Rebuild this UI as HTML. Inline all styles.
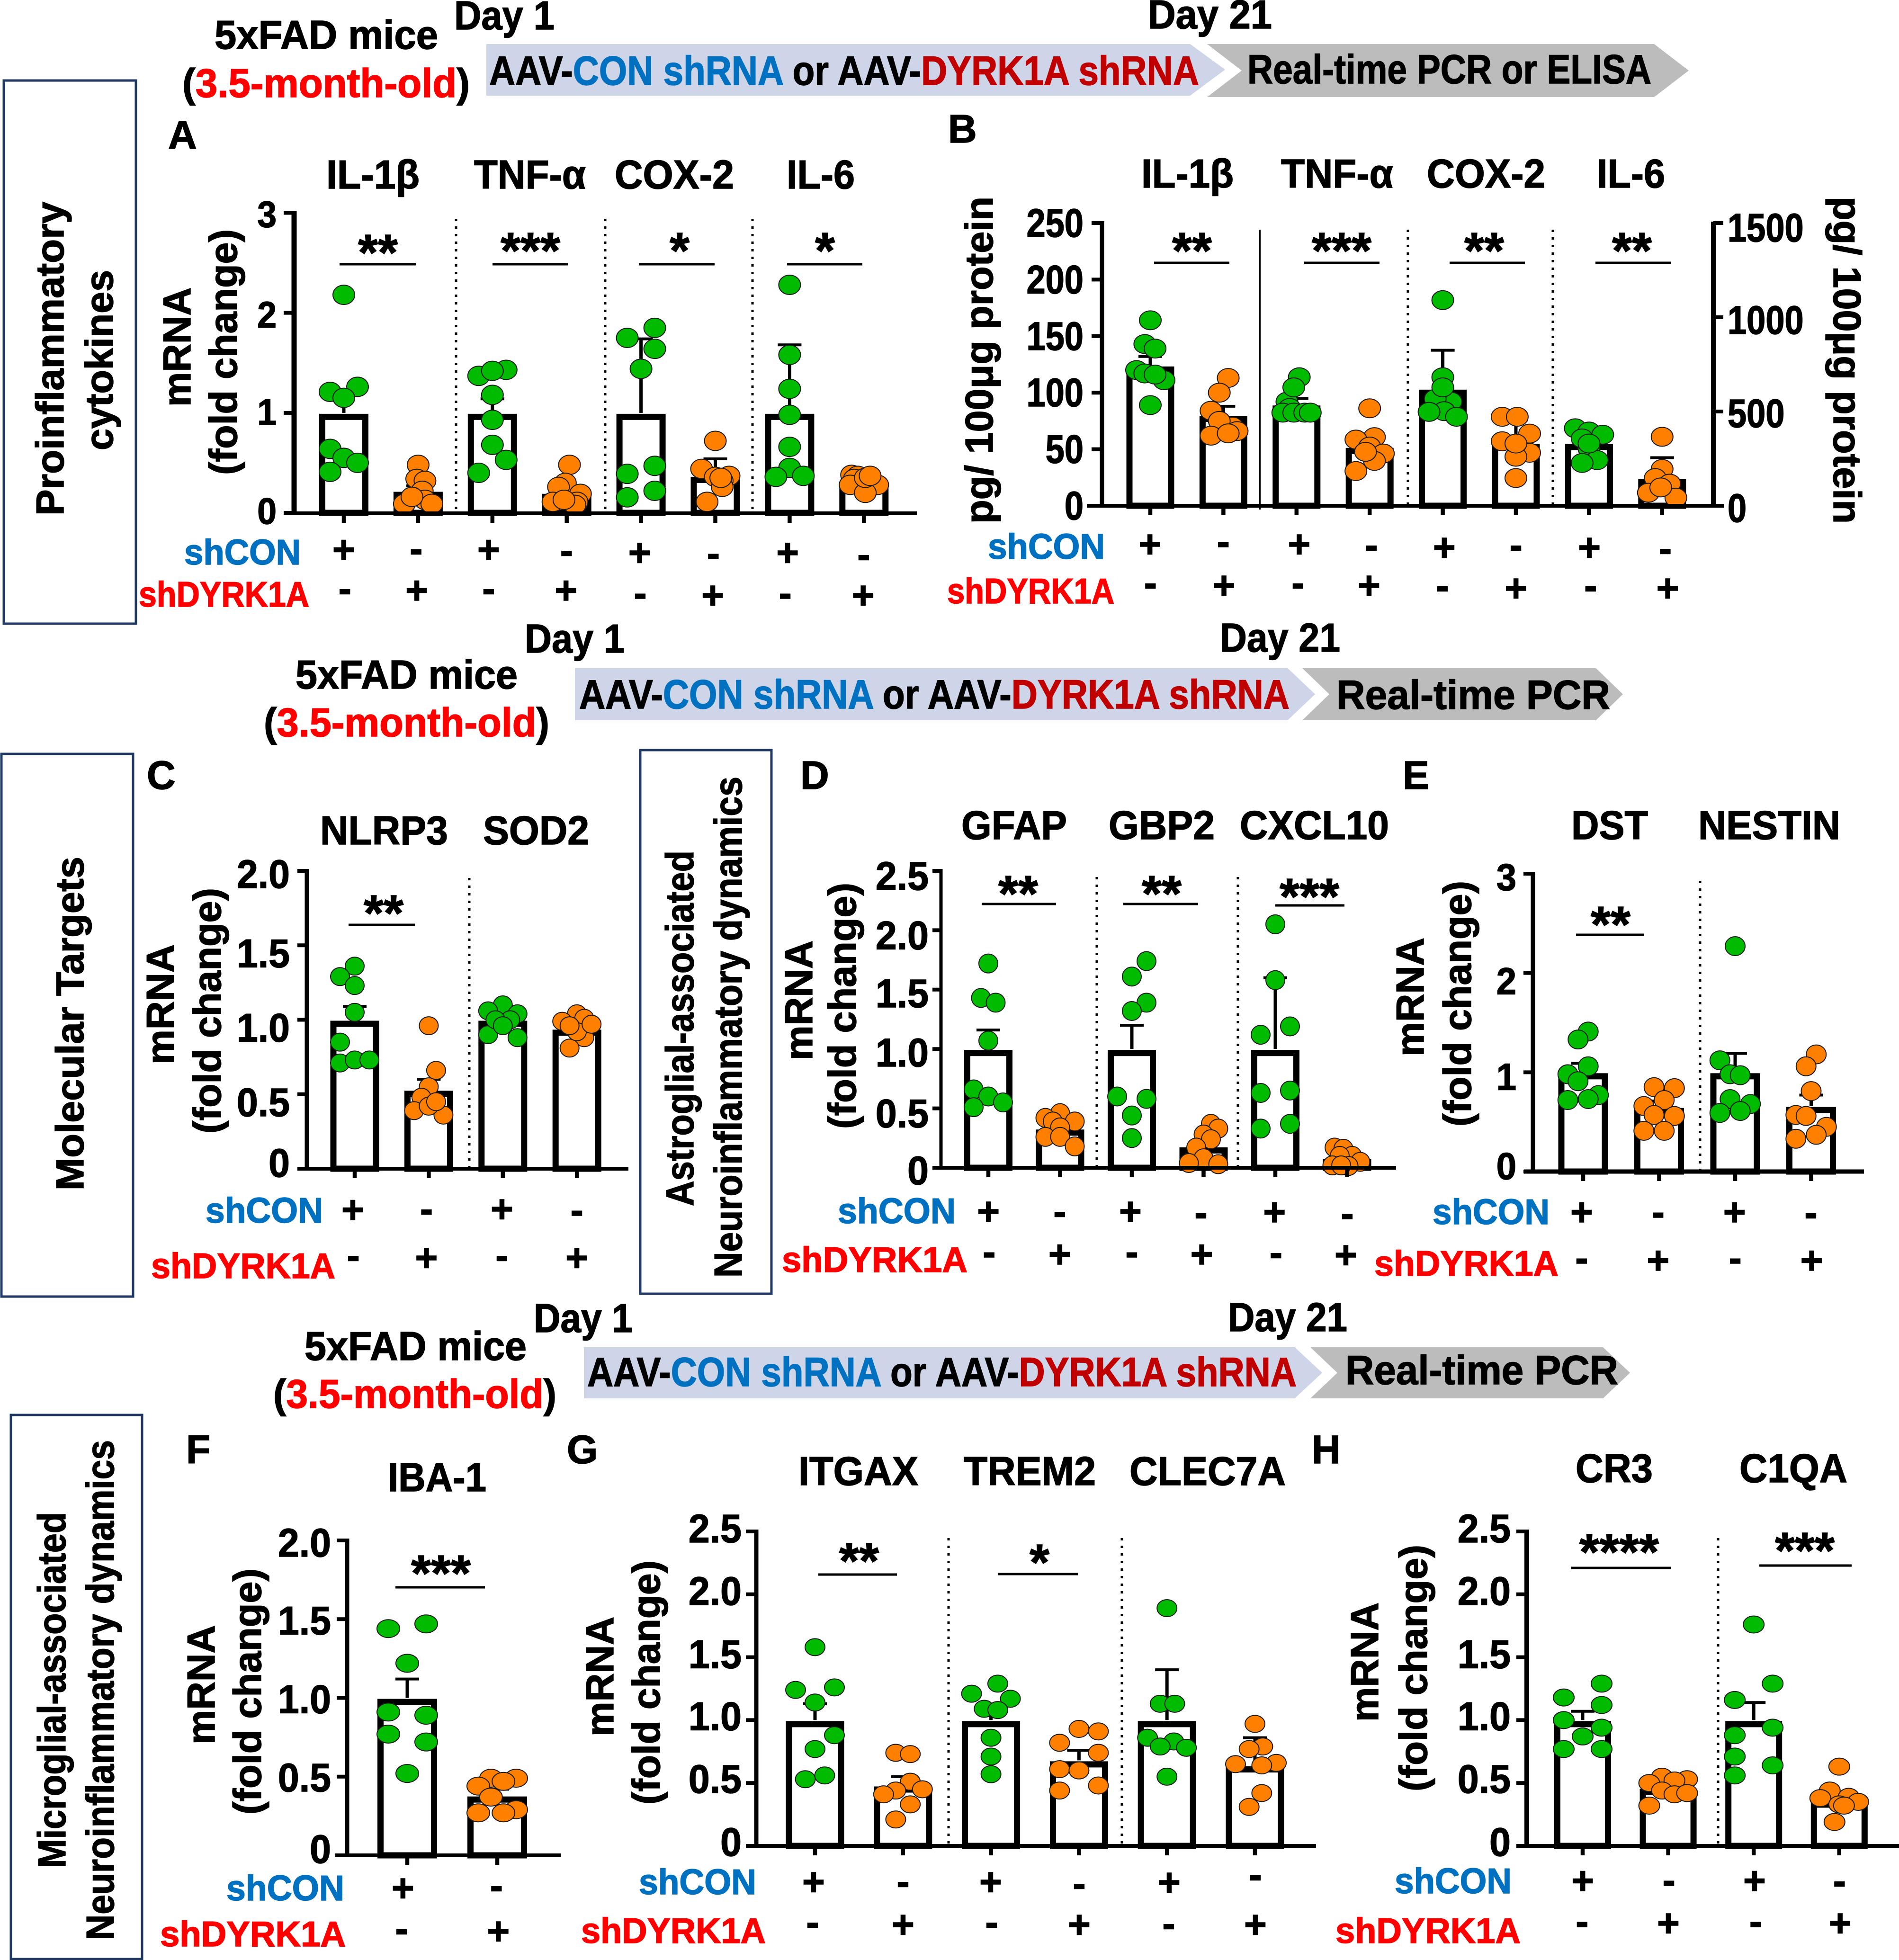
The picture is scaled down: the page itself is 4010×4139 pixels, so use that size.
<!DOCTYPE html>
<html lang="en">
<head>
<meta charset="utf-8">
<title>DYRK1A shRNA neuroinflammation figure</title>
<style>
html,body{margin:0;padding:0;background:#fff;}
svg{display:block;}
text{font-family:"Liberation Sans",Arial,sans-serif;font-weight:bold;fill:#000;stroke:#000;stroke-width:1.5;}
.blue{fill:#0070c0;stroke:#0070c0;}
.red{fill:#ff0000;stroke:#ff0000;}
.dred{fill:#c00000;stroke:#c00000;}
.lbl{font-size:75px;}
.ttl{font-size:85px;}
.hdr{font-size:85px;}
.let{font-size:84px;}
.arr{font-size:86px;}
.rot{font-size:83px;}
.star{font-size:108px;text-anchor:middle;}
.sig{stroke:#000;stroke-width:5;}
.dot{stroke:#000;stroke-width:5;stroke-dasharray:5 11;}
.box{fill:none;stroke:#1f3864;stroke-width:5;}
</style>
</head>
<body>
<svg id="figure" xmlns="http://www.w3.org/2000/svg" width="4010" height="4139" viewBox="0 0 4010 4139">
<rect x="0" y="0" width="4010" height="4139" fill="#fff"/>

<!-- Header 1 -->
<g>
<text class="hdr" x="453" y="103" textLength="472" lengthAdjust="spacingAndGlyphs">5xFAD mice</text>
<text class="hdr" x="385" y="205" textLength="607" lengthAdjust="spacingAndGlyphs">(<tspan class="red">3.5-month-old</tspan>)</text>
<text class="hdr" x="959" y="62" textLength="212" lengthAdjust="spacingAndGlyphs">Day 1</text>
<text class="hdr" x="2424" y="60" textLength="262" lengthAdjust="spacingAndGlyphs">Day 21</text>
<polygon points="1027,93 2513,93 2587,147 2513,202 1027,202" fill="#cfd5e9"/>
<polygon points="2549,93 3493,93 3566,149 3493,205 2549,205 2622,149" fill="#bcbcbc"/>
<text class="arr" x="1033" y="179" textLength="1499" lengthAdjust="spacingAndGlyphs">AAV-<tspan class="blue">CON shRNA</tspan> or AAV-<tspan class="dred">DYRK1A shRNA</tspan></text>
<text class="arr" x="2634" y="176" textLength="853" lengthAdjust="spacingAndGlyphs">Real-time PCR or ELISA</text>
</g>

<!-- Header 2 -->
<g>
<text class="hdr" x="624" y="1454" textLength="469" lengthAdjust="spacingAndGlyphs">5xFAD mice</text>
<text class="hdr" x="557" y="1555" textLength="603" lengthAdjust="spacingAndGlyphs">(<tspan class="red">3.5-month-old</tspan>)</text>
<text class="hdr" x="1108" y="1378" textLength="211" lengthAdjust="spacingAndGlyphs">Day 1</text>
<text class="hdr" x="2576" y="1376" textLength="254" lengthAdjust="spacingAndGlyphs">Day 21</text>
<polygon points="1214,1411 2719,1411 2777,1466 2719,1521 1214,1521" fill="#cfd5e9"/>
<polygon points="2750,1411 3370,1411 3427,1466 3370,1521 2750,1521 2807,1466" fill="#bcbcbc"/>
<text class="arr" x="1223" y="1496" textLength="1500" lengthAdjust="spacingAndGlyphs">AAV-<tspan class="blue">CON shRNA</tspan> or AAV-<tspan class="dred">DYRK1A shRNA</tspan></text>
<text class="arr" x="2822" y="1497" textLength="578" lengthAdjust="spacingAndGlyphs">Real-time PCR</text>
</g>

<!-- Header 3 -->
<g>
<text class="hdr" x="643" y="2872" textLength="469" lengthAdjust="spacingAndGlyphs">5xFAD mice</text>
<text class="hdr" x="577" y="2973" textLength="598" lengthAdjust="spacingAndGlyphs">(<tspan class="red">3.5-month-old</tspan>)</text>
<text class="hdr" x="1127" y="2813" textLength="209" lengthAdjust="spacingAndGlyphs">Day 1</text>
<text class="hdr" x="2593" y="2811" textLength="252" lengthAdjust="spacingAndGlyphs">Day 21</text>
<polygon points="1233,2845 2734,2845 2792,2899 2734,2953 1233,2953" fill="#cfd5e9"/>
<polygon points="2767,2845 3385,2845 3442,2899 3385,2953 2767,2953 2824,2899" fill="#bcbcbc"/>
<text class="arr" x="1240" y="2927" textLength="1498" lengthAdjust="spacingAndGlyphs">AAV-<tspan class="blue">CON shRNA</tspan> or AAV-<tspan class="dred">DYRK1A shRNA</tspan></text>
<text class="arr" x="2841" y="2923" textLength="576" lengthAdjust="spacingAndGlyphs">Real-time PCR</text>
</g>

<!-- Section boxes -->
<rect class="box" x="8" y="170" width="279" height="1147"/>
<text class="rot" transform="translate(134,1089) rotate(-90)" textLength="663" lengthAdjust="spacingAndGlyphs">Proinflammatory</text>
<text class="rot" transform="translate(238,951) rotate(-90)" textLength="381" lengthAdjust="spacingAndGlyphs">cytokines</text>
<rect class="box" x="3" y="1592" width="278" height="1146"/>
<text class="rot" transform="translate(176,2514) rotate(-90)" textLength="705" lengthAdjust="spacingAndGlyphs">Molecular Targets</text>
<rect class="box" x="1352" y="1584" width="277" height="1148"/>
<text class="rot" transform="translate(1464,2547) rotate(-90)" textLength="751" lengthAdjust="spacingAndGlyphs">Astroglial-associated</text>
<text class="rot" transform="translate(1566,2698) rotate(-90)" textLength="1058" lengthAdjust="spacingAndGlyphs">Neuroinflammatory dynamics</text>
<rect class="box" x="23" y="2988" width="277" height="1149"/>
<text class="rot" transform="translate(138,3945) rotate(-90)" textLength="752" lengthAdjust="spacingAndGlyphs">Microglial-associated</text>
<text class="rot" transform="translate(240,4097) rotate(-90)" textLength="1056" lengthAdjust="spacingAndGlyphs">Neuroinflammatory dynamics</text>

<!-- Panel letters -->
<text class="let" x="355" y="314">A</text>
<text class="let" x="2002" y="301">B</text>
<text class="let" x="310" y="1666">C</text>
<text class="let" x="1690" y="1666">D</text>
<text class="let" x="2962" y="1666">E</text>
<text class="let" x="393" y="3090">F</text>
<text class="let" x="1197" y="3090">G</text>
<text class="let" x="2770" y="3090">H</text>

<!-- Gene titles -->
<text class="ttl" x="689" y="398" textLength="197" lengthAdjust="spacingAndGlyphs">IL-1β</text>
<text class="ttl" x="1001" y="398" textLength="236" lengthAdjust="spacingAndGlyphs">TNF-α</text>
<text class="ttl" x="1298" y="398" textLength="252" lengthAdjust="spacingAndGlyphs">COX-2</text>
<text class="ttl" x="1661" y="398" textLength="144" lengthAdjust="spacingAndGlyphs">IL-6</text>
<text class="ttl" x="2410" y="396" textLength="195" lengthAdjust="spacingAndGlyphs">IL-1β</text>
<text class="ttl" x="2705" y="396" textLength="237" lengthAdjust="spacingAndGlyphs">TNF-α</text>
<text class="ttl" x="3013" y="396" textLength="250" lengthAdjust="spacingAndGlyphs">COX-2</text>
<text class="ttl" x="3372" y="396" textLength="144" lengthAdjust="spacingAndGlyphs">IL-6</text>
<text class="ttl" x="676" y="1783" textLength="270" lengthAdjust="spacingAndGlyphs">NLRP3</text>
<text class="ttl" x="1020" y="1783" textLength="224" lengthAdjust="spacingAndGlyphs">SOD2</text>
<text class="ttl" x="2030" y="1772" textLength="223" lengthAdjust="spacingAndGlyphs">GFAP</text>
<text class="ttl" x="2341" y="1772" textLength="224" lengthAdjust="spacingAndGlyphs">GBP2</text>
<text class="ttl" x="2618" y="1772" textLength="315" lengthAdjust="spacingAndGlyphs">CXCL10</text>
<text class="ttl" x="3318" y="1772" textLength="162" lengthAdjust="spacingAndGlyphs">DST</text>
<text class="ttl" x="3586" y="1772" textLength="300" lengthAdjust="spacingAndGlyphs">NESTIN</text>
<text class="ttl" x="819" y="3149" textLength="208" lengthAdjust="spacingAndGlyphs">IBA-1</text>
<text class="ttl" x="1686" y="3136" textLength="253" lengthAdjust="spacingAndGlyphs">ITGAX</text>
<text class="ttl" x="2035" y="3136" textLength="279" lengthAdjust="spacingAndGlyphs">TREM2</text>
<text class="ttl" x="2385" y="3136" textLength="330" lengthAdjust="spacingAndGlyphs">CLEC7A</text>
<text class="ttl" x="3327" y="3130" textLength="163" lengthAdjust="spacingAndGlyphs">CR3</text>
<text class="ttl" x="3673" y="3130" textLength="228" lengthAdjust="spacingAndGlyphs">C1QA</text>

<!-- Y axis titles -->
<g>
<text class="rot" transform="translate(402,859) rotate(-90)" textLength="252" lengthAdjust="spacingAndGlyphs">mRNA</text>
<text class="rot" transform="translate(500,1003) rotate(-90)" textLength="519" lengthAdjust="spacingAndGlyphs">(fold change)</text>
<text class="rot" transform="translate(2096,1106) rotate(-90)" textLength="691" lengthAdjust="spacingAndGlyphs">pg/ 100μg protein</text>
<text class="rot" transform="translate(3872,415) rotate(90)" textLength="691" lengthAdjust="spacingAndGlyphs">pg/ 100μg protein</text>
<text class="rot" transform="translate(367,2248) rotate(-90)" textLength="254" lengthAdjust="spacingAndGlyphs">mRNA</text>
<text class="rot" transform="translate(466,2394) rotate(-90)" textLength="519" lengthAdjust="spacingAndGlyphs">(fold change)</text>
<text class="rot" transform="translate(1715,2239) rotate(-90)" textLength="253" lengthAdjust="spacingAndGlyphs">mRNA</text>
<text class="rot" transform="translate(1807,2384) rotate(-90)" textLength="520" lengthAdjust="spacingAndGlyphs">(fold change)</text>
<text class="rot" transform="translate(3006,2231) rotate(-90)" textLength="251" lengthAdjust="spacingAndGlyphs">mRNA</text>
<text class="rot" transform="translate(3106,2379) rotate(-90)" textLength="519" lengthAdjust="spacingAndGlyphs">(fold change)</text>
<text class="rot" transform="translate(453,3684) rotate(-90)" textLength="252" lengthAdjust="spacingAndGlyphs">mRNA</text>
<text class="rot" transform="translate(551,3832) rotate(-90)" textLength="520" lengthAdjust="spacingAndGlyphs">(fold change)</text>
<text class="rot" transform="translate(1295,3667) rotate(-90)" textLength="253" lengthAdjust="spacingAndGlyphs">mRNA</text>
<text class="rot" transform="translate(1393,3811) rotate(-90)" textLength="516" lengthAdjust="spacingAndGlyphs">(fold change)</text>
<text class="rot" transform="translate(2910,3636) rotate(-90)" textLength="252" lengthAdjust="spacingAndGlyphs">mRNA</text>
<text class="rot" transform="translate(3013,3783) rotate(-90)" textLength="521" lengthAdjust="spacingAndGlyphs">(fold change)</text>
</g>

<!-- Group labels -->
<g>
<text class="lbl blue" x="389" y="1192" textLength="246" lengthAdjust="spacingAndGlyphs">shCON</text>
<text class="lbl red" x="293" y="1281" textLength="360" lengthAdjust="spacingAndGlyphs">shDYRK1A</text>
<text class="lbl blue" x="2086" y="1180" textLength="247" lengthAdjust="spacingAndGlyphs">shCON</text>
<text class="lbl red" x="2000" y="1274" textLength="353" lengthAdjust="spacingAndGlyphs">shDYRK1A</text>
<text class="lbl blue" x="434" y="2582" textLength="248" lengthAdjust="spacingAndGlyphs">shCON</text>
<text class="lbl red" x="319" y="2699" textLength="389" lengthAdjust="spacingAndGlyphs">shDYRK1A</text>
<text class="lbl blue" x="1769" y="2583" textLength="249" lengthAdjust="spacingAndGlyphs">shCON</text>
<text class="lbl red" x="1651" y="2686" textLength="392" lengthAdjust="spacingAndGlyphs">shDYRK1A</text>
<text class="lbl blue" x="3025" y="2585" textLength="247" lengthAdjust="spacingAndGlyphs">shCON</text>
<text class="lbl red" x="2902" y="2694" textLength="389" lengthAdjust="spacingAndGlyphs">shDYRK1A</text>
<text class="lbl blue" x="478" y="4013" textLength="249" lengthAdjust="spacingAndGlyphs">shCON</text>
<text class="lbl red" x="338" y="4110" textLength="392" lengthAdjust="spacingAndGlyphs">shDYRK1A</text>
<text class="lbl blue" x="1349" y="4000" textLength="248" lengthAdjust="spacingAndGlyphs">shCON</text>
<text class="lbl red" x="1227" y="4103" textLength="390" lengthAdjust="spacingAndGlyphs">shDYRK1A</text>
<text class="lbl blue" x="2945" y="3998" textLength="247" lengthAdjust="spacingAndGlyphs">shCON</text>
<text class="lbl red" x="2820" y="4103" textLength="391" lengthAdjust="spacingAndGlyphs">shDYRK1A</text>
</g>

<!-- Dividers -->
<g>
<line class="dot" x1="963" y1="462" x2="963" y2="1083"/>
<line class="dot" x1="1278" y1="462" x2="1278" y2="1083"/>
<line class="dot" x1="1589" y1="462" x2="1589" y2="1083"/>
<line x1="2660" y1="485" x2="2660" y2="1076" stroke="#000" stroke-width="4"/>
<line class="dot" x1="2973" y1="485" x2="2973" y2="1068"/>
<line class="dot" x1="3279" y1="485" x2="3279" y2="1068"/>
<line class="dot" x1="991" y1="1854" x2="991" y2="2468"/>
<line class="dot" x1="2316" y1="1852" x2="2316" y2="2466"/>
<line class="dot" x1="2614" y1="1852" x2="2614" y2="2466"/>
<line class="dot" x1="3590" y1="1860" x2="3590" y2="2474"/>
<line class="dot" x1="2003" y1="3248" x2="2003" y2="3898"/>
<line class="dot" x1="2369" y1="3248" x2="2369" y2="3898"/>
<line class="dot" x1="3628" y1="3248" x2="3628" y2="3898"/>
</g>

<g id="plots"></g>

<!-- Significance -->
<g>
<line class="sig" x1="717" y1="558" x2="878" y2="558"/>
<text class="star" x="798" y="570">**</text>
<line class="sig" x1="1040" y1="558" x2="1199" y2="558"/>
<text class="star" x="1120" y="566">***</text>
<line class="sig" x1="1349" y1="558" x2="1509" y2="558"/>
<text class="star" x="1435" y="566">*</text>
<line class="sig" x1="1662" y1="558" x2="1821" y2="558"/>
<text class="star" x="1742" y="566">*</text>
<line class="sig" x1="2437" y1="555" x2="2596" y2="555"/>
<text class="star" x="2517" y="566">**</text>
<line class="sig" x1="2754" y1="555" x2="2913" y2="555"/>
<text class="star" x="2833" y="566">***</text>
<line class="sig" x1="3061" y1="555" x2="3220" y2="555"/>
<text class="star" x="3134" y="566">**</text>
<line class="sig" x1="3369" y1="555" x2="3528" y2="555"/>
<text class="star" x="3446" y="566">**</text>
<line class="sig" x1="736" y1="1953" x2="876" y2="1953"/>
<text class="star" x="810" y="1965">**</text>
<line class="sig" x1="2073" y1="1909" x2="2230" y2="1909"/>
<text class="star" x="2150" y="1924">**</text>
<line class="sig" x1="2372" y1="1909" x2="2530" y2="1909"/>
<text class="star" x="2453" y="1924">**</text>
<line class="sig" x1="2693" y1="1912" x2="2839" y2="1912"/>
<text class="star" x="2765" y="1930">***</text>
<line class="sig" x1="3328" y1="1974" x2="3472" y2="1974"/>
<text class="star" x="3401" y="1989">**</text>
<line class="sig" x1="835" y1="3352" x2="1024" y2="3352"/>
<text class="star" x="931" y="3359">***</text>
<line class="sig" x1="1728" y1="3325" x2="1894" y2="3325"/>
<text class="star" x="1814" y="3333">**</text>
<line class="sig" x1="2108" y1="3324" x2="2276" y2="3324"/>
<text class="star" x="2195" y="3336">*</text>
<line class="sig" x1="3318" y1="3311" x2="3528" y2="3311"/>
<text class="star" x="3419" y="3314">****</text>
<line class="sig" x1="3715" y1="3306" x2="3910" y2="3306"/>
<text class="star" x="3811" y="3311">***</text>
</g>
</svg>

<script>
/* ---------- Panel A ---------- */
const panelA_tickValues = [0, 1, 2, 3];
const panelA_tickLabels = ['0', '1', '2', '3'];
const panelA_means = [1, 0.22, 1, 0.2, 1, 0.37, 1, 0.28];
const panelA_errorTops = [1.2, 0.27, 1.14, 0.25, 1.74, 0.54, 1.68, 0.31];
const panelA_points = [
  [2.18, 1.26, 1.21, 1.15, 0.64, 0.55, 0.5, 0.41],
  [0.48, 0.34, 0.32, 0.22, 0.09, 0.13, 0.09, 0.16],
  [1.37, 1.43, 1.42, 1.18, 0.93, 0.68, 0.53, 0.4],
  [0.48, 0.3, 0.26, 0.19, 0.11, 0.08, 0.11, 0.13],
  [1.85, 1.75, 1.64, 1.44, 0.47, 0.39, 0.22, 0.155],
  [0.72, 0.44, 0.37, 0.36, 0.32, 0.26, 0.11, 0.35],
  [2.28, 1.58, 1.24, 0.98, 0.66, 0.45, 0.36, 0.37],
  [0.38, 0.37, 0.34, 0.28, 0.28, 0.2, 0.35, 0.37]
];
const panelA_swarmSlots = [
  [0, 1, -1, 0, -1, 0, 1, -1],
  [0, -0.1, 0.5, 0.3, -1, 0.5, 1, -0.45],
  [-1, 1, 0, 0, 0, 0, 1, -1],
  [0.2, -0.1, -0.6, 1, 0.75, 0.6, -1, -0.2],
  [1, -1, 1, 0, 1, -1, 1, -1],
  [0, -1, 1, 0, 0.5, 0.5, -0.6, 0.4],
  [0, 0, 0, 0, 0, 0, -1, 1],
  [-0.9, -0.45, -0.7, -1, 1, 0.1, 0.1, 0.45]
];
const panelA_shCON = ['+', '-', '+', '-', '+', '-', '+', '-'];
const panelA_shDYRK1A = ['-', '+', '-', '+', '-', '+', '-', '+'];

/* ---------- Panel B (first pair on left axis, the rest on right axis) ---------- */
const panelB_leftTickValues = [0, 50, 100, 150, 200, 250];
const panelB_leftTickLabels = ['0', '50', '100', '150', '200', '250'];
const panelB_rightTickValues = [0, 500, 1000, 1500];
const panelB_rightTickLabels = ['0', '500', '1000', '1500'];
const panelB_axisOfGroup = ['left', 'left', 'right', 'right', 'right', 'right', 'right', 'right'];
const panelB_means = [124, 80.4, 537, 312, 621, 333, 333, 147];
const panelB_errorTops = [132, 88, 569, 335, 825, 455, 357, 255];
const panelB_points = [
  [164, 143, 139, 111, 120, 89, 117, 116],
  [113, 100, 84, 70, 75, 66, 62, 64],
  [682, 552, 519, 628, 494, 494, 494, 494],
  [517, 364, 351, 314, 277, 238, 184, 286],
  [1091, 682, 552, 567, 502, 498, 472, 628],
  [472, 472, 383, 342, 281, 260, 147, 330],
  [411, 394, 377, 357, 303, 242, 227, 330],
  [366, 195, 147, 117, 69, 43, 97]
];
const panelB_swarmSlots = [
  [0, -0.4, 0.35, 1, -1, 0, -0.4, 0.35],
  [0.35, -0.3, -0.9, 0.65, -0.3, 1, -0.9, 0.35],
  [0.2, -0.7, -0.5, -0.2, -1, -0.2, 0.6, 1],
  [0, 0.35, -1, 0, 1, 0.35, -1, -0.3],
  [0, 0, 0.6, -0.55, 0.1, -1, 1, 0],
  [-1, 0.1, 1, -1, 1, 0, 0, 0],
  [-1, 0, 1, -0.5, 0, 0.6, -0.5, 0],
  [0, 0, -0.5, 0.55, -1, 1, -0.1]
];
const panelB_shCON = ['+', '-', '+', '-', '+', '-', '+', '-'];
const panelB_shDYRK1A = ['-', '+', '-', '+', '-', '+', '-', '+'];

/* ---------- Panel C ---------- */
const panelC_tickValues = [0, 0.5, 1, 1.5, 2];
const panelC_tickLabels = ['0', '0.5', '1.0', '1.5', '2.0'];
const panelC_means = [1, 0.53, 1, 0.94];
const panelC_errorTops = [1.09, 0.6, 1.03, 0.97];
const panelC_points = [
  [1.36, 1.29, 1.23, 1.05, 0.85, 0.71, 0.73, 0.73],
  [0.96, 0.66, 0.55, 0.48, 0.39, 0.36, 0.42, 0.45],
  [1.1, 1.04, 1.0, 0.88, 0.9, 1.06, 1.0, 0.96],
  [1.04, 1.01, 0.99, 0.88, 0.81, 0.92, 0.97, 0.96]
];
const panelC_swarmSlots = [
  [0, -1, 0, 0, -1, -1, 0, 1],
  [0, 0.5, 0, -0.5, -1, 1, 0, 0.5],
  [0, 1, 0.5, 1, -1, -1, -0.5, 0],
  [0, 0.5, -1, 0.5, -0.5, 0, 1, -0.5]
];
const panelC_shCON = ['+', '-', '+', '-'];
const panelC_shDYRK1A = ['-', '+', '-', '+'];

/* ---------- Panel D ---------- */
const panelD_tickValues = [0, 0.5, 1, 1.5, 2, 2.5];
const panelD_tickLabels = ['0', '0.5', '1.0', '1.5', '2.0', '2.5'];
const panelD_means = [1, 0.33, 1, 0.18, 1, 0.08];
const panelD_errorTops = [1.16, 0.37, 1.2, 0.22, 1.6, 0.1];
const panelD_points = [
  [1.72, 1.43, 1.39, 1.07, 0.66, 0.6, 0.55, 0.51],
  [0.46, 0.42, 0.39, 0.39, 0.34, 0.26, 0.26, 0.18],
  [1.74, 1.61, 1.39, 1.32, 0.6, 0.58, 0.44, 0.25],
  [0.37, 0.33, 0.28, 0.24, 0.17, 0.08, 0.04, 0.03],
  [2.05, 1.58, 1.19, 1.12, 0.65, 0.63, 0.37, 0.33],
  [0.17, 0.16, 0.1, 0.1, 0.05, 0.02, 0.015, 0.02]
];
const panelD_swarmSlots = [
  [0, -0.5, 0.5, 0, -1, 0, 1, -1],
  [0, -1, -0.5, 1, 0, -1, 0, 1],
  [1, 0, 1, 0, -1, 1, 0, 0],
  [0.5, 1, 0, 0.5, -0.5, 0, -1, 1],
  [0, 0, 1, -1, 1, -1, 1, -1],
  [-0.85, -0.25, 0.35, -0.5, 0.9, -1, 0.1, -0.4]
];
const panelD_shCON = ['+', '-', '+', '-', '+', '-'];
const panelD_shDYRK1A = ['-', '+', '-', '+', '-', '+'];

/* ---------- Panel E ---------- */
const panelE_tickValues = [0, 1, 2, 3];
const panelE_tickLabels = ['0', '1', '2', '3'];
const panelE_means = [1, 0.65, 1, 0.66];
const panelE_errorTops = [1.09, 0.71, 1.19, 0.77];
const panelE_points = [
  [1.41, 1.33, 1.06, 0.98, 0.91, 0.77, 0.72, 0.73],
  [0.85, 0.84, 0.72, 0.66, 0.56, 0.57, 0.41, 0.41],
  [2.27, 1.12, 0.98, 0.97, 0.73, 0.68, 0.61, 0.59],
  [1.18, 1.06, 0.81, 0.57, 0.56, 0.45, 0.37, 0.33]
];
const panelE_swarmSlots = [
  [0.5, -0.5, 0.5, -1.5, -0.5, 1.5, -1.5, 0.5],
  [-0.5, 1.5, 0.5, -1.5, 1.5, -0.5, -1.5, 0.5],
  [0, -1.5, -0.5, 0.5, -0.5, 1.5, 0.5, -1.5],
  [0.5, -0.5, 0, -1.5, -0.5, 1.5, 0.5, -1.5]
];
const panelE_shCON = ['+', '-', '+', '-'];
const panelE_shDYRK1A = ['-', '+', '-', '+'];

/* ---------- Panel F ---------- */
const panelF_tickValues = [0, 0.5, 1, 1.5, 2];
const panelF_tickLabels = ['0', '0.5', '1.0', '1.5', '2.0'];
const panelF_means = [1, 0.38];
const panelF_errorTops = [1.12, 0.42];
const panelF_points = [
  [1.47, 1.44, 1.22, 0.91, 0.89, 0.77, 0.72, 0.52],
  [0.49, 0.49, 0.47, 0.44, 0.37, 0.29, 0.27, 0.27]
];
const panelF_swarmSlots = [
  [1, -1, 0, -1, 1, -1, 1, 0],
  [1, -0.33, 0.33, -1, -0.33, 1, -1, 0.33]
];
const panelF_shCON = ['+', '-'];
const panelF_shDYRK1A = ['-', '+'];

/* ---------- Panel G ---------- */
const panelG_tickValues = [0, 0.5, 1, 1.5, 2, 2.5];
const panelG_tickLabels = ['0', '0.5', '1.0', '1.5', '2.0', '2.5'];
const panelG_means = [1, 0.48, 1, 0.68, 1, 0.64];
const panelG_errorTops = [1.13, 0.55, 1.07, 0.76, 1.4, 0.86];
const panelG_points = [
  [1.58, 1.24, 1.26, 1.14, 0.88, 0.77, 0.56, 0.53],
  [0.74, 0.73, 0.51, 0.45, 0.44, 0.41, 0.33, 0.21],
  [1.29, 1.21, 1.17, 1.09, 1.08, 0.86, 0.71, 0.57],
  [0.93, 0.91, 0.82, 0.74, 0.61, 0.6, 0.48, 0.44],
  [1.89, 1.13, 1.13, 0.86, 0.83, 0.79, 0.78, 0.55],
  [0.97, 0.79, 0.77, 0.66, 0.65, 0.64, 0.42, 0.31]
];
const panelG_swarmSlots = [
  [0, -2, 2, 0, 2, 0, 1, -1],
  [-0.75, 0.75, 0.75, 2, -0.75, -2, 0.75, -0.75],
  [0.7, -2, 2, -0.7, 0.7, 0, 0, 0],
  [0, 2, -2, 2, -2, 0, 2, -2],
  [0, -0.7, 0.8, -2, 0.7, -0.7, 2, 0],
  [0, 0.8, -0.6, 2.2, -2, 0.7, 0.7, -0.6]
];
const panelG_shCON = ['+', '-', '+', '-', '+', '-'];
const panelG_shDYRK1A = ['-', '+', '-', '+', '-', '+'];

/* ---------- Panel H ---------- */
const panelH_tickValues = [0, 0.5, 1, 1.5, 2, 2.5];
const panelH_tickLabels = ['0', '0.5', '1.0', '1.5', '2.0', '2.5'];
const panelH_means = [1, 0.46, 1, 0.36];
const panelH_errorTops = [1.07, 0.5, 1.14, 0.4];
const panelH_points = [
  [1.29, 1.18, 1.12, 1.0, 0.94, 0.87, 0.77, 0.77],
  [0.55, 0.53, 0.52, 0.5, 0.44, 0.41, 0.42, 0.32],
  [1.76, 1.29, 1.16, 0.94, 0.88, 0.71, 0.64, 0.56],
  [0.63, 0.44, 0.39, 0.38, 0.35, 0.33, 0.32, 0.19]
];
const panelH_swarmSlots = [
  [1, -1, 1, -1, 1, 0, -1, 1],
  [-0.33, 1, 0.33, -1, -0.33, 0.33, 1, -1],
  [0, 1, -1, 1, -1, -1, 1, -1],
  [0, -0.5, 0.5, -1, 1, 0, 0.25, -0.25]
];
const panelH_shCON = ['+', '-', '+', '-'];
const panelH_shDYRK1A = ['-', '+', '-', '+'];

/* ---------- Axis functions and drawing ---------- */
const SVG_NS = 'http://www.w3.org/2000/svg';
const GREEN = '#00bb00';
const ORANGE = '#ff8000';
const BAR_STROKE = 13;

function yAxisScale(maxValue, yZero, yTop) {
  return function (v) { return yZero - (v / maxValue) * (yZero - yTop); };
}
function xBandScale(firstCenter, step) {
  return function (i) { return firstCenter + i * step; };
}
function make(tag, parent) {
  const el = document.createElementNS(SVG_NS, tag);
  parent.appendChild(el);
  return el;
}
function setAll(el, attrs) {
  Object.keys(attrs).forEach(function (k) { el.setAttribute(k, attrs[k]); });
}

function drawTicks(g, scale, axisX, dir, len, width, values, labels, cfg) {
  values.forEach(function (v, i) {
    const tick = make('line', g);
    
    
    setAll(tick, {x1: axisX, x2: axisX + dir * len, y1: scale(v), y2: scale(v), stroke: '#000', 'stroke-width': width});
    const label = make('text', g);
    
    
    setAll(label, {x: cfg.labelX, y: scale(v) + cfg.labelDy[i], 'font-size': cfg.font, 'text-anchor': cfg.anchor});
    label.textContent = labels[i];
    const natural = label.getComputedTextLength();
    setAll(label, {textLength: natural * cfg.squeeze, lengthAdjust: 'spacingAndGlyphs'});
  });
}

function drawSignRow(g, chars, positions, crop, rowName) {
  chars.forEach(function (ch, i) {
    const t = make('text', g);
    
    
    const cx = crop.ox + positions[i][0] * crop.fx;
    const cy = crop.oy + positions[i][1] * crop.fy;
    setAll(t, {x: cx, y: cy + (ch === '+' ? 26 : 21), 'font-size': 82, 'text-anchor': 'middle'});
    t.textContent = ch;
  });
}

function drawPanel(p) {
  const root = document.getElementById('plots');
  const g = make('g', root);
  
  
  const x = xBandScale(p.firstCenter, p.step);
  const yOf = p.yOf;

  p.means.forEach(function (m, i) {
    const y = yOf(i);
    const color = i % 2 === 0 ? GREEN : ORANGE;
    const stem = make('line', g);
    
    
    setAll(stem, {x1: x(i), x2: x(i), y1: y(m), y2: y(p.errorTops[i]), stroke: '#000', 'stroke-width': 7});
    const cap = make('line', g);
    
    
    setAll(cap, {x1: x(i) - 25, x2: x(i) + 25, y1: y(p.errorTops[i]), y2: y(p.errorTops[i]), stroke: '#000', 'stroke-width': 6});
    const bar = make('rect', g);
    
    
    const barTop = y(m) + BAR_STROKE / 2 + 2;
    setAll(bar, {x: x(i) - p.barW / 2, y: barTop, width: p.barW, height: Math.max(0, y(0) - barTop), fill: 'none', stroke: '#000', 'stroke-width': BAR_STROKE});
    p.points[i].forEach(function (v, j) {
      const dot = make('ellipse', g);
      
      
      setAll(dot, {cx: x(i) + p.swarm[i][j] * p.slot, cy: y(v), rx: p.rx, ry: p.ry, fill: color, stroke: '#1a1a1a', 'stroke-width': 2});
    });
    const xTick = make('line', g);
    
    
    setAll(xTick, {x1: x(i), x2: x(i), y1: y(0), y2: y(0) + p.xTickLen, stroke: '#000', 'stroke-width': 8.5});
  });

  const yLine = make('line', g);
  
  
  setAll(yLine, {x1: p.axisX, x2: p.axisX, y1: p.yTop - 4, y2: p.yZero + 4, stroke: '#000', 'stroke-width': p.axisW});
  const xLine = make('line', g);
  
  
  setAll(xLine, {x1: p.baseX1, x2: p.baseX2, y1: p.yZero, y2: p.yZero, stroke: '#000', 'stroke-width': p.baseW});

  drawTicks(g, p.tickScale, p.axisX, -1, p.tickLen, 8, p.tickValues, p.tickLabels,
    {labelX: p.labelRight, labelDy: p.labelDy, font: p.tickFont, anchor: 'end', squeeze: p.tickSqueeze});

  drawSignRow(g, p.shCON, p.signs1, p.crop, 'shcon-sign');
  drawSignRow(g, p.shDYRK1A, p.signs2, p.crop, 'shdyrk1a-sign');
  return g;
}

const crop1 = {ox: 0, oy: 0, fx: 1.2755, fy: 0.861};
const crop2 = {ox: 2000, oy: 0, fx: 1.2819, fy: 0.861};
const crop3 = {ox: 0, oy: 1550, fx: 1.2755, fy: 0.7653};
const crop4 = {ox: 1600, oy: 1550, fx: 1.537, fy: 0.7653};
const crop5 = {ox: 0, oy: 2950, fx: 1.2755, fy: 0.7583};
const crop6 = {ox: 2000, oy: 2950, fx: 1.2819, fy: 0.7583};
const cropPx = {ox: 0, oy: 0, fx: 1, fy: 1};

/* A */
const aScale = yAxisScale(3, 1083, 449.5);
drawPanel({id: 'a', firstCenter: 726, step: 156.9, barW: 91, rx: 23, ry: 20.5, slot: 29,
  axisX: 621, axisW: 11, yZero: 1084, yTop: 449.5, baseX1: 600, baseX2: 1936, baseW: 8,
  yOf: function () { return aScale; }, tickScale: aScale, tickLen: 22, xTickLen: 21,
  means: panelA_means, errorTops: panelA_errorTops, points: panelA_points, swarm: panelA_swarmSlots,
  tickValues: panelA_tickValues, tickLabels: panelA_tickLabels, labelRight: 584, tickFont: 78, tickSqueeze: 0.94, labelDy: [23, 25, 31, 30],
  shCON: panelA_shCON, shDYRK1A: panelA_shDYRK1A, crop: crop1,
  signs1: [[569,1350],[689,1354],[809,1350],[938,1358],[1059,1358],[1181,1365],[1304,1358],[1430,1368]],
  signs2: [[571,1452],[690,1450],[809,1452],[937,1450],[1060,1463],[1180,1462],[1300,1463],[1429,1462]]});

/* B */
const bLeft = yAxisScale(250, 1068, 471);
const bRight = yAxisScale(1500, 1068, 471);
const bGroup = drawPanel({id: 'b', firstCenter: 2429, step: 154.4, barW: 88, rx: 23, ry: 20, slot: 29,
  axisX: 2327, axisW: 9, yZero: 1068, yTop: 471, baseX1: 2295, baseX2: 3640, baseW: 8,
  yOf: function (i) { return panelB_axisOfGroup[i] === 'left' ? bLeft : bRight; }, tickScale: bLeft, tickLen: 22, xTickLen: 20,
  means: panelB_means, errorTops: panelB_errorTops, points: panelB_points, swarm: panelB_swarmSlots,
  tickValues: panelB_leftTickValues, tickLabels: panelB_leftTickLabels, labelRight: 2288, tickFont: 84, tickSqueeze: 0.86, labelDy: [29, 29, 29, 29, 29, 29],
  shCON: panelB_shCON, shDYRK1A: panelB_shDYRK1A, crop: crop2,
  signs1: [[334,1337],[455,1336],[580,1337],[699,1345],[819,1345],[937,1345],[1058,1345],[1183,1353]],
  signs2: [[335,1438],[456,1438],[578,1438],[695,1438],[816,1445],[937,1445],[1060,1445],[1187,1445]]});
const bRightAxis = make('line', bGroup);


setAll(bRightAxis, {x1: 3618, x2: 3618, y1: 468, y2: 1072, stroke: '#000', 'stroke-width': 10});
drawTicks(bGroup, bRight, 3618, 1, 21, 8, panelB_rightTickValues, panelB_rightTickLabels,
  {labelX: 3648, labelDy: [34, 33, 35, 39], font: 84, anchor: 'start', squeeze: 0.86});

/* C */
const cScale = yAxisScale(2, 2468, 1839);
drawPanel({id: 'c', firstCenter: 749, step: 156.4, barW: 90, rx: 20, ry: 19, slot: 31,
  axisX: 648, axisW: 9, yZero: 2468, yTop: 1839, baseX1: 629, baseX2: 1327, baseW: 8,
  yOf: function () { return cScale; }, tickScale: cScale, tickLen: 20, xTickLen: 20,
  means: panelC_means, errorTops: panelC_errorTops, points: panelC_points, swarm: panelC_swarmSlots,
  tickValues: panelC_tickValues, tickLabels: panelC_tickLabels, labelRight: 612, tickFont: 84, tickSqueeze: 0.96, labelDy: [17, 46, 46, 46, 36],
  shCON: panelC_shCON, shDYRK1A: panelC_shDYRK1A, crop: crop3,
  signs1: [[584,1315],[706,1320],[831,1313],[955,1323]],
  signs2: [[585,1448],[706,1448],[831,1448],[955,1448]]});

/* D */
const dScale = yAxisScale(2.5, 2466, 1839);
drawPanel({id: 'd', firstCenter: 2087, step: 151.5, barW: 89, rx: 20, ry: 20, slot: 31,
  axisX: 1987, axisW: 7, yZero: 2466, yTop: 1839, baseX1: 1969, baseX2: 2948, baseW: 8,
  yOf: function () { return dScale; }, tickScale: dScale, tickLen: 18, xTickLen: 20,
  means: panelD_means, errorTops: panelD_errorTops, points: panelD_points, swarm: panelD_swarmSlots,
  tickValues: panelD_tickValues, tickLabels: panelD_tickLabels, labelRight: 1961, tickFont: 84, tickSqueeze: 0.96, labelDy: [35, 40, 37, 37, 40, 40],
  shCON: panelD_shCON, shDYRK1A: panelD_shDYRK1A, crop: crop4,
  signs1: [[317,1320],[415,1326],[512,1320],[609,1330],[710,1322],[810,1332]],
  signs2: [[318,1438],[415,1438],[514,1438],[610,1438],[712,1440],[808,1440]]});

/* E */
const eScale = yAxisScale(3, 2474, 1845);
drawPanel({id: 'e', firstCenter: 3343, step: 160.5, barW: 92, rx: 21, ry: 20, slot: 21.5,
  axisX: 3237, axisW: 9, yZero: 2474, yTop: 1845, baseX1: 3218, baseX2: 3936, baseW: 9,
  yOf: function () { return eScale; }, tickScale: eScale, tickLen: 20, xTickLen: 20,
  means: panelE_means, errorTops: panelE_errorTops, points: panelE_points, swarm: panelE_swarmSlots,
  tickValues: panelE_tickValues, tickLabels: panelE_tickLabels, labelRight: 3202, tickFont: 80, tickSqueeze: 0.95, labelDy: [16, 37, 45, 35],
  shCON: panelE_shCON, shDYRK1A: panelE_shDYRK1A, crop: crop4,
  signs1: [[1132,1322],[1237,1328],[1342,1322],[1447,1330]],
  signs2: [[1132,1455],[1237,1455],[1343,1455],[1448,1455]]});

/* F */
const fScale = yAxisScale(2, 3918, 3253);
drawPanel({id: 'f', firstCenter: 860, step: 190, barW: 113, rx: 24, ry: 19, slot: 40,
  axisX: 733, axisW: 9, yZero: 3918, yTop: 3253, baseX1: 708, baseX2: 1184, baseW: 8,
  yOf: function () { return fScale; }, tickScale: fScale, tickLen: 22, xTickLen: 20,
  means: panelF_means, errorTops: panelF_errorTops, points: panelF_points, swarm: panelF_swarmSlots,
  tickValues: panelF_tickValues, tickLabels: panelF_tickLabels, labelRight: 699, tickFont: 84, tickSqueeze: 0.96, labelDy: [16, 31, 32, 32, 34],
  shCON: panelF_shCON, shDYRK1A: panelF_shDYRK1A, crop: crop5,
  signs1: [[667,1370],[822,1370]],
  signs2: [[665,1490],[825,1490]]});

/* G */
const gScale = yAxisScale(2.5, 3898, 3234);
drawPanel({id: 'g', firstCenter: 1721, step: 185.8, barW: 110, rx: 21, ry: 18, slot: 20.5,
  axisX: 1597, axisW: 9, yZero: 3898, yTop: 3234, baseX1: 1575, baseX2: 2779, baseW: 8,
  yOf: function () { return gScale; }, tickScale: gScale, tickLen: 22, xTickLen: 20,
  means: panelG_means, errorTops: panelG_errorTops, points: panelG_points, swarm: panelG_swarmSlots,
  tickValues: panelG_tickValues, tickLabels: panelG_tickLabels, labelRight: 1566, tickFont: 84, tickSqueeze: 0.96, labelDy: [21, 21, 21, 23, 22, 23],
  shCON: panelG_shCON, shDYRK1A: panelG_shDYRK1A, crop: cropPx,
  signs1: [[1718,3976],[1907,3980],[2092,3976],[2279,3984],[2469,3977],[2651,3966]],
  signs2: [[1716,4066],[1907,4066],[2094,4066],[2279,4066],[2468,4069],[2651,4066]]});

/* H */
const hScale = yAxisScale(2.5, 3898, 3234);
drawPanel({id: 'h', firstCenter: 3342, step: 180.6, barW: 107, rx: 22, ry: 18, slot: 40,
  axisX: 3224, axisW: 10, yZero: 3898, yTop: 3234, baseX1: 3202, baseX2: 4010, baseW: 8,
  yOf: function () { return hScale; }, tickScale: hScale, tickLen: 22, xTickLen: 20,
  means: panelH_means, errorTops: panelH_errorTops, points: panelH_points, swarm: panelH_swarmSlots,
  tickValues: panelH_tickValues, tickLabels: panelH_tickLabels, labelRight: 3190, tickFont: 84, tickSqueeze: 0.96, labelDy: [21, 21, 21, 23, 22, 23],
  shCON: panelH_shCON, shDYRK1A: panelH_shDYRK1A, crop: crop6,
  signs1: [[1047,1350],[1189,1355],[1330,1350],[1470,1357]],
  signs2: [[1046,1470],[1188,1468],[1332,1470],[1471,1468]]});
</script>
</body>
</html>
